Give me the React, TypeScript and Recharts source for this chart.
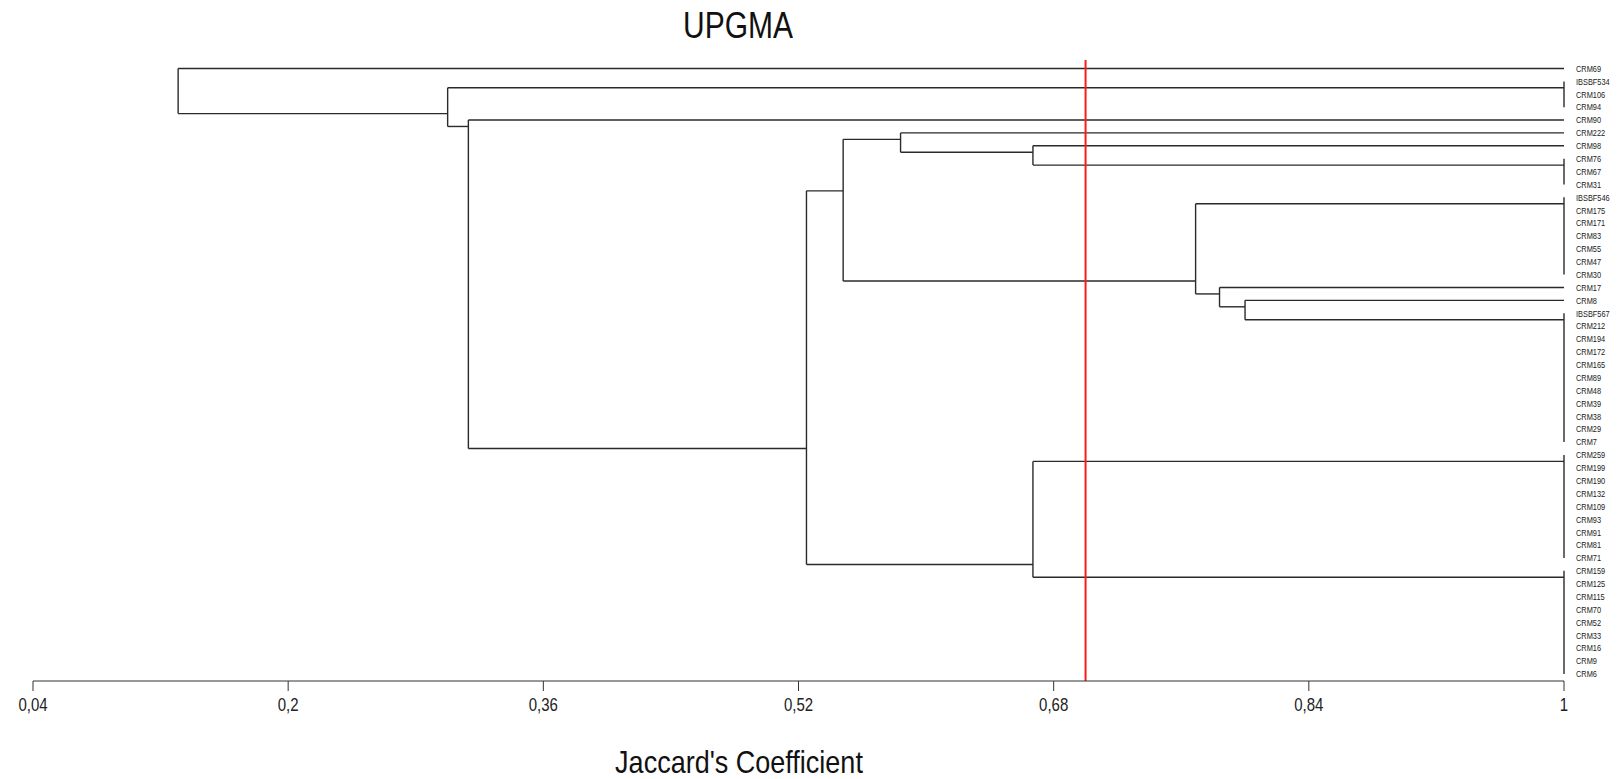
import React from 'react';
import { ComposedChart, XAxis, YAxis, ReferenceLine, Scatter } from 'recharts';

// leaf order, top to bottom
const leafNames = [
  'CRM69', 'IBSBF534', 'CRM106', 'CRM94', 'CRM90', 'CRM222', 'CRM98', 'CRM76', 'CRM67', 'CRM31',
  'IBSBF546', 'CRM175', 'CRM171', 'CRM83', 'CRM55', 'CRM47', 'CRM30', 'CRM17', 'CRM8', 'IBSBF567',
  'CRM212', 'CRM194', 'CRM172', 'CRM165', 'CRM89', 'CRM48', 'CRM39', 'CRM38', 'CRM29', 'CRM7',
  'CRM259', 'CRM199', 'CRM190', 'CRM132', 'CRM109', 'CRM93', 'CRM91', 'CRM81', 'CRM71', 'CRM159',
  'CRM125', 'CRM115', 'CRM70', 'CRM52', 'CRM33', 'CRM16', 'CRM9', 'CRM6',
];

// identical profiles (Jaccard = 1): [id, first leaf, last leaf]
const identicalGroups: [string, string, string][] = [
  ['g1', 'IBSBF534', 'CRM94'],
  ['g2', 'CRM76', 'CRM31'],
  ['g3', 'IBSBF546', 'CRM30'],
  ['g4', 'IBSBF567', 'CRM7'],
  ['g5', 'CRM259', 'CRM71'],
  ['g6', 'CRM159', 'CRM6'],
];

// UPGMA merges: [id, upper child, lower child, similarity]
const merges: [string, string, string, number][] = [
  ['n1', 'CRM8', 'g4', 0.8],
  ['n2', 'CRM17', 'n1', 0.784],
  ['n3', 'g3', 'n2', 0.769],
  ['n4', 'CRM98', 'g2', 0.667],
  ['n5', 'CRM222', 'n4', 0.584],
  ['n6', 'n5', 'n3', 0.548],
  ['n7', 'g5', 'g6', 0.667],
  ['n8', 'n6', 'n7', 0.525],
  ['n9', 'CRM90', 'n8', 0.313],
  ['n10', 'g1', 'n9', 0.3],
  ['n11', 'CRM69', 'n10', 0.131],
];

const xTicks = [0.04, 0.2, 0.36, 0.52, 0.68, 0.84, 1];
const cutOff = 0.7;

type Item = { first: number; last: number; y: number; x: number };
type Seg = [number, number, number, number];

const items: Record<string, Item> = {};
const segs: Seg[] = [];

leafNames.forEach((n, i) => {
  items[n] = { first: i, last: i, y: i, x: 1 };
});
identicalGroups.forEach(([id, a, b]) => {
  const first = leafNames.indexOf(a);
  const last = leafNames.indexOf(b);
  items[id] = { first, last, y: first + 0.5, x: 1 };
  segs.push([1, first, 1, last]);
});
merges.forEach(([id, a, b, sim]) => {
  const l = items[a];
  const r = items[b];
  items[id] = { first: l.first, last: r.last, y: (l.last + r.first) / 2, x: sim };
  segs.push([sim, l.y, sim, r.y]);
  segs.push([sim, l.y, l.x, l.y]);
  segs.push([sim, r.y, r.x, r.y]);
});

const leafPoints = leafNames.map((n, i) => ({ x: 1, y: i, name: n }));

const font = '"Liberation Sans", Arial, sans-serif';
const ink = '#222';

const XTick = (props: any) => {
  const { x, y, payload } = props;
  return (
    <g transform={`translate(${x},${y})`}>
      <text
        transform="scale(1,1.25)"
        y={9.6}
        textAnchor="middle"
        dominantBaseline="central"
        fontSize={15}
        fontFamily={font}
        fill={ink}
      >
        {String(payload.value).replace('.', ',')}
      </text>
    </g>
  );
};

const LeafTick = (props: any) => {
  const { x, y, payload } = props;
  return (
    <g transform={`translate(${x},${y})`}>
      <text
        transform="scale(1,1.25)"
        textAnchor="start"
        dominantBaseline="central"
        fontSize={7.4}
        fontFamily={font}
        fill={ink}
      >
        {leafNames[payload.value]}
      </text>
    </g>
  );
};

export default function App() {
  return (
    <div style={{ position: 'relative', width: 1610, height: 771, background: '#fff' }}>
      <div
        style={{
          position: 'absolute',
          left: 530,
          top: 5,
          width: 400,
          height: 26,
          lineHeight: '26px',
          textAlign: 'center',
          fontFamily: font,
          fontSize: 30,
          color: '#111',
          transform: 'scale(1,1.2)',
        }}
      >
        UPGMA
      </div>
      <ComposedChart width={1610} height={771} margin={{ top: 52, right: 0, bottom: 0, left: 25 }}>
        <XAxis
          type="number"
          dataKey="x"
          domain={[0.04, 1]}
          ticks={xTicks}
          interval={0}
          allowDataOverflow
          height={98}
          tickSize={10}
          stroke="#333"
          tick={<XTick />}
        />
        <YAxis
          type="number"
          dataKey="y"
          orientation="right"
          reversed
          domain={[-0.66, 47.55]}
          allowDataOverflow
          ticks={leafNames.map((_, i) => i)}
          interval={0}
          width={54}
          axisLine={false}
          tickLine={false}
          tickSize={10}
          tickMargin={2}
          tick={<LeafTick />}
        />
        <Scatter data={leafPoints} isAnimationActive={false} shape={() => <g />} />
        {segs.map((s, i) => (
          <ReferenceLine
            key={i}
            segment={[
              { x: s[0], y: s[1] },
              { x: s[2], y: s[3] },
            ]}
            stroke="#2a2a2a"
            strokeWidth={1.4}
          />
        ))}
        <ReferenceLine x={cutOff} stroke="#ff1a1a" strokeWidth={2} />
      </ComposedChart>
      <div
        style={{
          position: 'absolute',
          left: 431,
          top: 743,
          width: 600,
          height: 24,
          lineHeight: '24px',
          textAlign: 'center',
          fontFamily: font,
          fontSize: 27,
          color: '#111',
          transform: 'scale(1,1.15)',
        }}
      >
        Jaccard's Coefficient
      </div>
    </div>
  );
}
